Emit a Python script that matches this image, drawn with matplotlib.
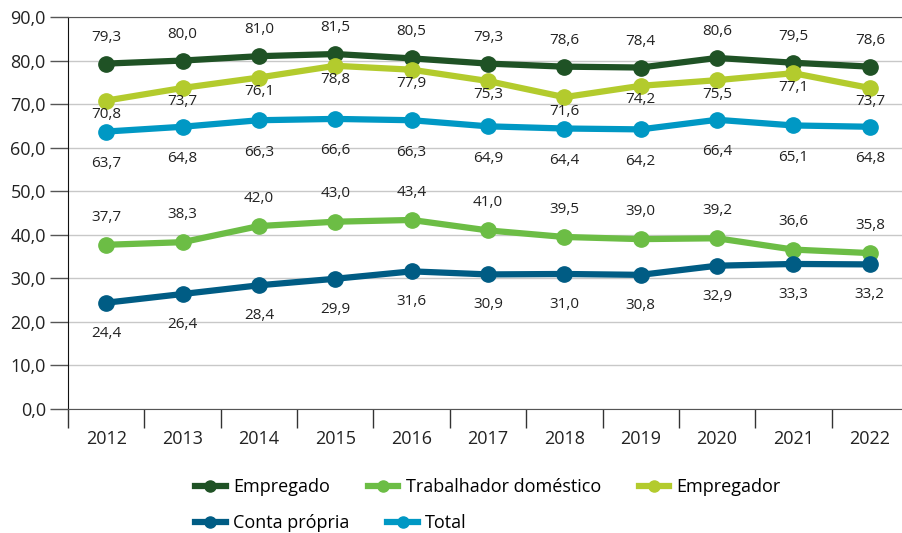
import matplotlib
matplotlib.use('Agg')
import matplotlib.pyplot as plt
from matplotlib.ticker import FuncFormatter, FixedLocator
from matplotlib.lines import Line2D

plt.rcParams['font.family'] = ['Open Sans', 'DejaVu Sans']

years = ['2012', '2013', '2014', '2015', '2016', '2017', '2018', '2019', '2020', '2021', '2022']
empregado = [79.3, 80.0, 81.0, 81.5, 80.5, 79.3, 78.6, 78.4, 80.6, 79.5, 78.6]
domestico = [37.7, 38.3, 42.0, 43.0, 43.4, 41.0, 39.5, 39.0, 39.2, 36.6, 35.8]
empregador = [70.8, 73.7, 76.1, 78.8, 77.9, 75.3, 71.6, 74.2, 75.5, 77.1, 73.7]
conta_propria = [24.4, 26.4, 28.4, 29.9, 31.6, 30.9, 31.0, 30.8, 32.9, 33.3, 33.2]
total = [63.7, 64.8, 66.3, 66.6, 66.3, 64.9, 64.4, 64.2, 66.4, 65.1, 64.8]

# name, values, colour, label offset (points)
series = [
    ('Empregado', empregado, '#1f5225', 19),
    ('Trabalhador doméstico', domestico, '#6cbd45', 20),
    ('Empregador', empregador, '#b3cb2d', -10),
    ('Conta própria', conta_propria, '#005c84', -22),
    ('Total', total, '#0098c4', -23),
]

fig = plt.figure(figsize=(9.02, 5.33), dpi=100)
ax = fig.add_axes([68 / 902, 1 - 409 / 533, 840 / 902, 392 / 533])

x = list(range(len(years)))
handles = {}
for name, vals, col, off in series:
    ax.plot(x, vals, color=col, lw=4.5, marker='o', ms=11, zorder=3)
    handles[name] = Line2D([], [], color=col, lw=4.5, marker='o', ms=8)
    for xi, v in zip(x, vals):
        ax.annotate(f'{v:.1f}'.replace('.', ','), (xi, v), xytext=(0, off),
                    textcoords='offset points', ha='center', va='center',
                    fontsize=11, color='#222222')

ax.set_xlim(-0.5, 10.5)
ax.set_ylim(0, 90)
ax.set_yticks(range(0, 91, 10))
ax.yaxis.set_major_formatter(FuncFormatter(lambda v, p: f'{v:.1f}'.replace('.', ',')))
ax.grid(axis='y', color='#c8c8c8', lw=1)
ax.set_axisbelow(True)

# year labels between tick marks
ax.set_xticks(x)
ax.set_xticklabels(years, fontsize=13, color='#222222')
ax.tick_params(axis='x', which='major', length=0, pad=15)
ax.xaxis.set_minor_locator(FixedLocator([i - 0.5 for i in range(len(years) + 1)]))
ax.tick_params(axis='x', which='minor', length=14, width=1, color='#333333')
ax.tick_params(axis='y', length=13, width=1, color='#555555', labelsize=13,
               labelcolor='#222222', pad=3)

ax.spines['right'].set_visible(False)
ax.spines['top'].set_color('#555555')
ax.spines['left'].set_color('#111111')
ax.spines['bottom'].set_color('#555555')
ax.spines['left'].set_bounds(0, 90)

row1 = ['Empregado', 'Trabalhador doméstico', 'Empregador']
row2 = ['Conta própria', 'Total']
kw = dict(frameon=False, fontsize=13, handlelength=1.7, handletextpad=0.4,
          columnspacing=2.1, loc='center left', borderaxespad=0, borderpad=0)
fig.legend([handles[n] for n in row1], row1, ncol=3,
           bbox_to_anchor=(195 / 902, 1 - 487 / 533), **kw)
fig.legend([handles[n] for n in row2], row2, ncol=2,
           bbox_to_anchor=(195 / 902, 1 - 523 / 533), **kw)

fig.savefig('out.png', dpi=100)
